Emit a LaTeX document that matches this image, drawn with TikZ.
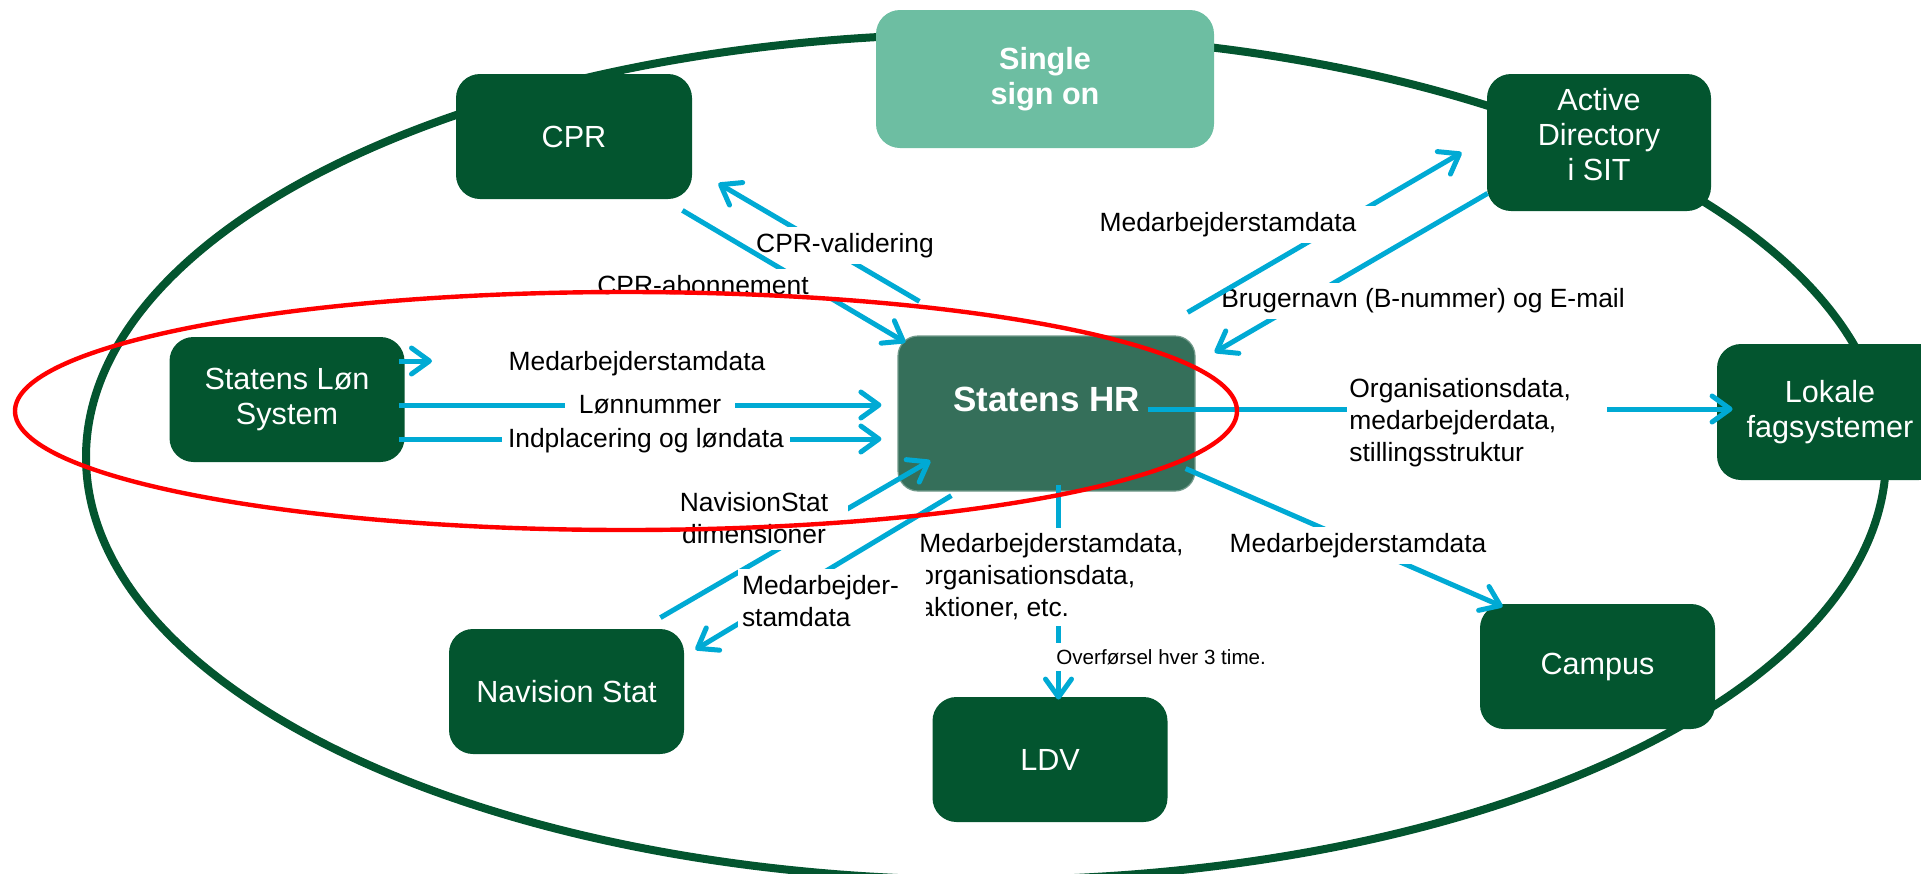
\documentclass[tikz,border=0pt]{standalone}
\usepackage{fontspec}
\setmainfont{Liberation Sans}
\usetikzlibrary{arrows.meta,calc}
\definecolor{sysgreen}{HTML}{03552F}
\definecolor{hrgreen}{HTML}{356F5A}
\definecolor{ssogreen}{HTML}{6DBEA2}
\definecolor{flowblue}{HTML}{00AAD4}
\begin{document}
\begin{tikzpicture}[
x=0.5pt, y=-0.5pt,
sysbox/.style = {shape=rectangle, rounded corners=12pt, fill=sysgreen, text=white, align=center, minimum width=117.5pt, minimum height=62.5pt, font=\fontsize{15.3}{17.5}\selectfont},
hrbox/.style = {sysbox, fill=hrgreen, draw=hrgreen!70!white, line width=0.6pt, rounded corners=10pt, font=\bfseries\fontsize{17.5}{20}\selectfont},
ssobox/.style = {sysbox, fill=ssogreen, font=\bfseries\fontsize{15.3}{17.5}\selectfont},
lbl/.style = {fill=white, inner xsep=3pt, inner ysep=3pt, font=\fontsize{13.2}{16}\selectfont},
flow/.style = {draw=flowblue, line width=2.5pt, -{Straight Barb[length=9pt,width=13pt,round]}},
]
\useasboundingbox (0,0) rectangle (1921,873);
\clip (0,0) rectangle (1921,873);
\draw[sysgreen, line width=4pt] (986,457) ellipse [x radius=450pt, y radius=211.5pt];

\node[sysbox, minimum width=118pt] (cpr) at (574,136.5) {CPR};
\node[ssobox, minimum width=169pt, minimum height=69pt] (sso) at (1045,79) {Single\\sign on};
\node[sysbox, minimum width=112pt, minimum height=68.5pt, text depth=8.5pt] (ad) at (1599,142.5) {Active\\Directory\\i SIT};
\node[sysbox] (sls) at (287,399.5) {Statens Løn\\System};
\node[hrbox, minimum width=148.5pt, minimum height=77.5pt, text depth=14.3pt] (hr) at (1046.5,413.5) {Statens HR};
\node[sysbox, minimum width=113pt, minimum height=68pt] (lok) at (1830,412) {Lokale\\fagsystemer};
\node[sysbox] (nav) at (566.5,691.5) {Navision Stat};
\node[sysbox] (ldv) at (1050,759.5) {LDV};
\node[sysbox] (campus) at (1597.5,666.5) {Campus};

\draw[flow] ($(hr.north west)+(22,-34)$) -- ($(cpr.south east)+(26,-16)$);
\node[lbl] (cprval) at (845,245.5) {CPR-validering};
\draw[flow] ($(cpr.south east)+(-10,11)$) -- ($(hr.north west)+(8,7)$);
\node[lbl, minimum width=134pt] (cprab) at (703,285) {CPR-abonnement};

\coordinate (stubend) at (432,361);
\draw[flow] ($(sls.east |- stubend)+(-6,0)$) -- (stubend);
\node[lbl] (medsls) at (637,363.5) {Medarbejderstamdata};
\draw[flow] ($(sls.east)+(-6,5.5)$) -- ($(hr.west |- sls.east)+(-16,5.5)$);
\node[lbl, inner xsep=7pt] (lonnr) at (650,405) {Lønnummer};
\draw[flow] ($(sls.east)+(-6,39.5)$) -- ($(hr.west |- sls.east)+(-16,39.5)$);
\node[lbl] (indpl) at (646,441) {Indplacering og løndata};

\draw[flow] ($(nav.north east)+(-24,-11)$) -- ($(hr.south west)+(33,-31)$);
\node[lbl, align=center, inner xsep=10pt] (navdim) at (754,518) {NavisionStat\\dimensioner};

\draw[flow] ($(hr.south)+(12,-7)$) -- ($(ldv.north)+(8.5,3)$);
\node[lbl, anchor=west, align=left, inner xsep=1pt] (medldv) at (917,577) {Medarbejderstamdata,\\organisationsdata,\\aktioner, etc.};
\node[lbl, anchor=west, inner xsep=2pt, font=\fontsize{10.3}{12}\selectfont] (overf) at (1052,657) {Overførsel hver 3 time.};

\draw[flow] ($(hr.south west)+(54,4)$) -- ($(nav.north east)+(11,21)$);
\node[lbl, text width=90pt, align=left, inner xsep=2pt] (mednav) at (832,601) {Medarbejder-\\stamdata};

\draw[flow] ($(hr.south east)+(-10,-23)$) -- ($(campus.north west)+(23,3)$);
\node[lbl] (medcamp) at (1358,545.5) {Medarbejderstamdata};

\draw[flow] ($(hr.east)+(-48,-4.5)$) -- ($(lok.west)+(16,-3)$);
\node[lbl, anchor=west, align=left, text width=128pt, inner xsep=1pt] (orgl) at (1347,422.5) {Organisationsdata,\\medarbejderdata,\\stillingsstruktur};

\draw[flow] ($(ad.south west)+(1,-18)$) -- ($(hr.north east)+(19,17)$);
\node[lbl] (brug) at (1423,301) {Brugernavn (B-nummer) og E-mail};
\draw[flow] ($(hr.north east)+(-8,-23)$) -- ($(ad.west)+(-25,10)$);
\node[lbl, minimum width=147pt] (medad) at (1228,224.5) {Medarbejderstamdata};

\draw[red, line width=2.2pt] (626,411) ellipse [x radius=305.5pt, y radius=59.5pt];
\end{tikzpicture}
\end{document}
